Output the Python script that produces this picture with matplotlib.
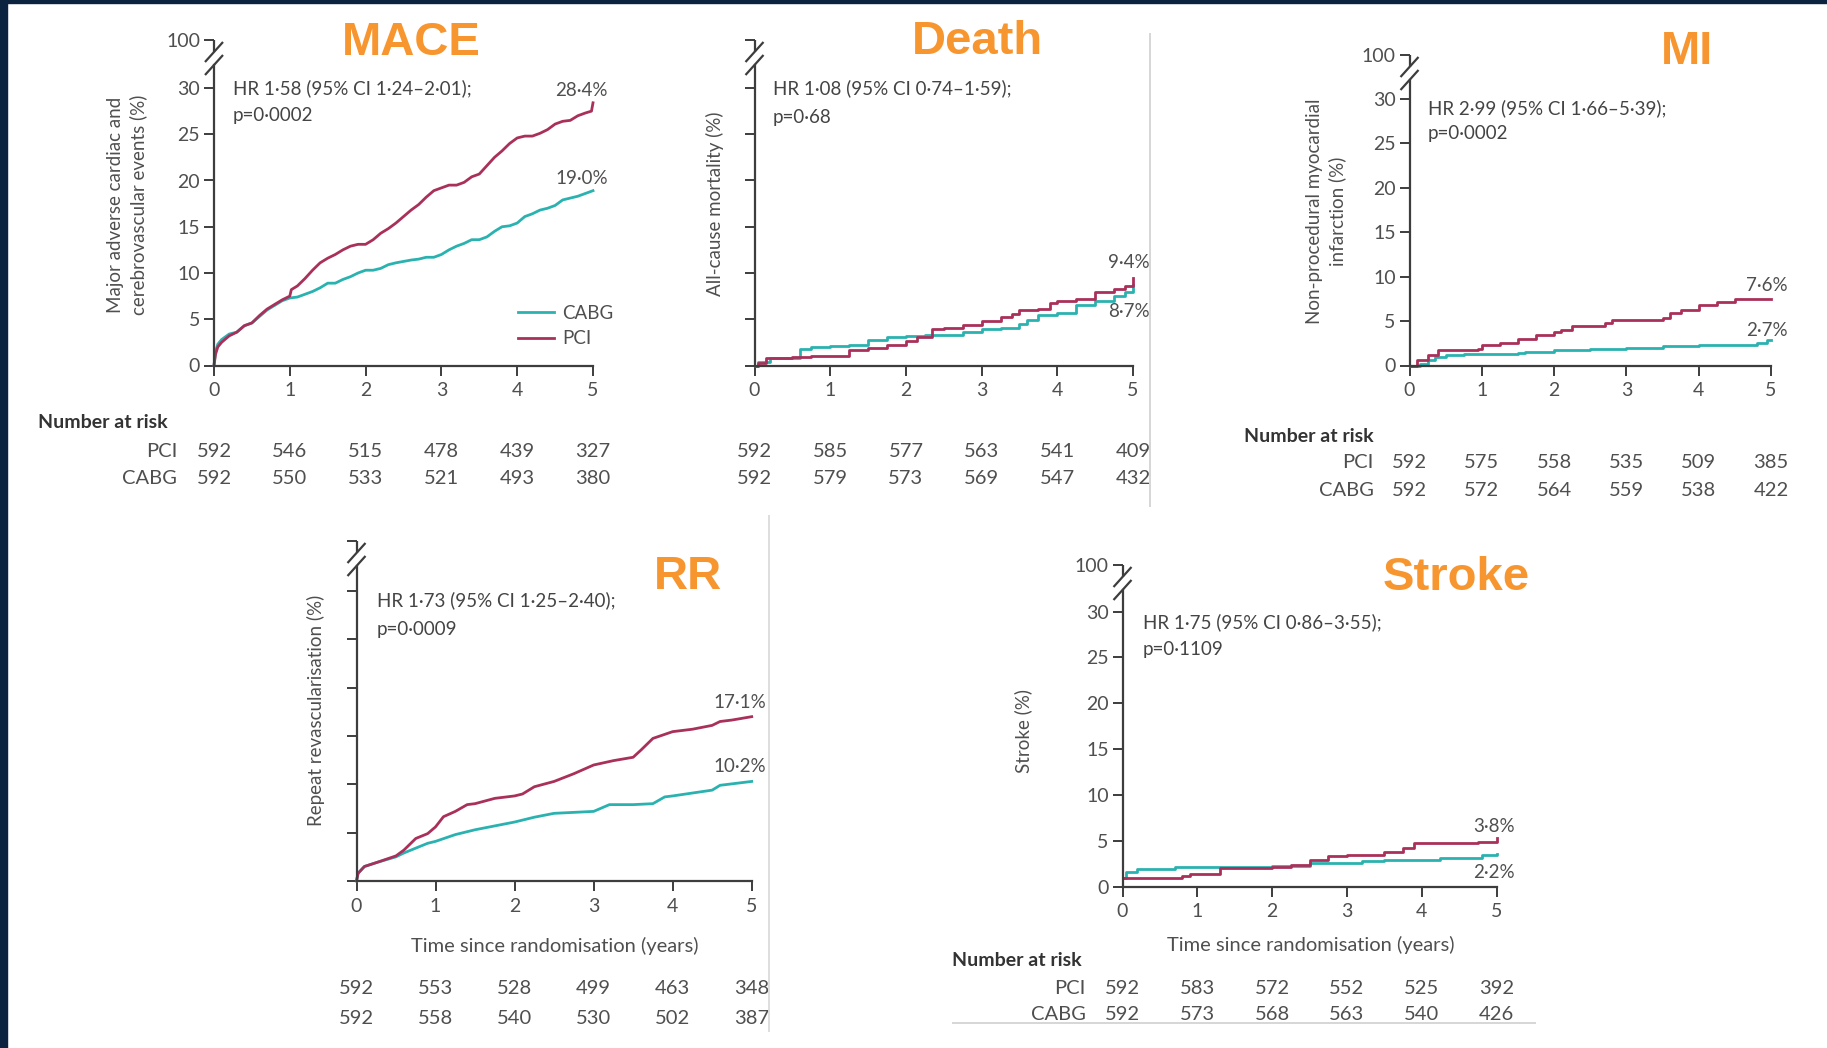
import matplotlib
matplotlib.use('Agg')
import matplotlib.pyplot as plt
from matplotlib.lines import Line2D
from matplotlib.patches import Rectangle
import matplotlib.transforms as mtransforms

# ---------------- data ----------------
risk_times = [0, 1, 2, 3, 4, 5]

# MACE
mace_pci_t = [0, 0.02, 0.05, 0.1, 0.2, 0.3, 0.4, 0.5, 0.6, 0.7, 0.8, 0.9, 1.0, 1.02, 1.1, 1.2, 1.3, 1.4,
              1.5, 1.6, 1.7, 1.8, 1.9, 2.0, 2.1, 2.2, 2.3, 2.4, 2.5, 2.6, 2.7, 2.8, 2.9, 3.0, 3.1, 3.2,
              3.3, 3.4, 3.5, 3.6, 3.7, 3.8, 3.9, 4.0, 4.1, 4.2, 4.3, 4.4, 4.5, 4.6, 4.7, 4.8, 4.9, 4.98, 5.0]
mace_pci_v = [0, 1.2, 2.0, 2.5, 3.2, 3.6, 4.3, 4.6, 5.4, 6.1, 6.6, 7.1, 7.5, 8.2, 8.6, 9.4, 10.3, 11.1,
              11.6, 12.0, 12.5, 12.9, 13.1, 13.1, 13.6, 14.3, 14.8, 15.4, 16.1, 16.8, 17.4, 18.2, 18.9, 19.2, 19.5, 19.5,
              19.8, 20.4, 20.7, 21.6, 22.5, 23.2, 24.0, 24.6, 24.8, 24.8, 25.1, 25.5, 26.1, 26.4, 26.5, 27.0, 27.3, 27.5, 28.4]
mace_cabg_t = [0, 0.02, 0.05, 0.1, 0.2, 0.3, 0.4, 0.5, 0.6, 0.7, 0.8, 0.9, 1.0, 1.1, 1.2, 1.3, 1.4,
               1.5, 1.6, 1.7, 1.8, 1.9, 2.0, 2.1, 2.2, 2.3, 2.4, 2.5, 2.6, 2.7, 2.8, 2.9, 3.0, 3.1, 3.2,
               3.3, 3.4, 3.5, 3.6, 3.7, 3.8, 3.9, 4.0, 4.1, 4.2, 4.3, 4.4, 4.5, 4.6, 4.7, 4.8, 4.9, 5.0]
mace_cabg_v = [0, 1.5, 2.3, 2.8, 3.4, 3.6, 4.3, 4.6, 5.3, 6.0, 6.5, 7.0, 7.3, 7.4, 7.7, 8.0, 8.4,
               8.9, 8.9, 9.3, 9.6, 10.0, 10.3, 10.3, 10.5, 10.9, 11.1, 11.25, 11.4, 11.5, 11.7, 11.7, 12.0, 12.5, 12.9,
               13.2, 13.6, 13.6, 13.9, 14.5, 15.0, 15.1, 15.4, 16.1, 16.4, 16.8, 17.0, 17.3, 17.9, 18.1, 18.3, 18.6, 18.9]
mace_risk_pci = [592, 546, 515, 478, 439, 327]
mace_risk_cabg = [592, 550, 533, 521, 493, 380]

# Death
death_pci_t = [0, 0.05, 0.15, 0.5, 0.75, 1.0, 1.25, 1.5, 1.75, 2.0, 2.15, 2.35, 2.5, 2.75, 3.0, 3.25, 3.4,
               3.5, 3.75, 3.9, 4.0, 4.25, 4.5, 4.75, 4.9, 5.0]
death_pci_v = [0, 0.3, 0.8, 0.9, 1.0, 1.05, 1.7, 1.85, 2.2, 2.65, 3.1, 3.9, 4.1, 4.35, 4.8, 5.2, 5.6,
               6.0, 6.15, 6.7, 7.0, 7.2, 7.9, 8.3, 8.6, 9.4]
death_cabg_t = [0, 0.05, 0.2, 0.6, 0.75, 1.0, 1.25, 1.5, 1.75, 2.0, 2.25, 2.75, 3.0, 3.25, 3.5, 3.6, 3.75,
                4.0, 4.25, 4.5, 4.75, 4.9, 5.0]
death_cabg_v = [0, 0.4, 0.8, 1.75, 1.95, 2.1, 2.2, 2.8, 3.1, 3.2, 3.3, 3.65, 3.9, 4.1, 4.5, 4.9, 5.4,
                5.7, 6.5, 7.0, 7.45, 7.9, 8.7]
death_risk_pci = [592, 585, 577, 563, 541, 409]
death_risk_cabg = [592, 579, 573, 569, 547, 432]

# MI
mi_pci_t = [0, 0.1, 0.25, 0.4, 0.5, 0.95, 1.0, 1.25, 1.5, 1.75, 2.0, 2.1, 2.25, 2.7, 2.8, 3.5, 3.6, 3.75,
            4.0, 4.25, 4.5, 5.0]
mi_pci_v = [0, 0.6, 1.2, 1.7, 1.8, 1.9, 2.3, 2.55, 2.95, 3.4, 3.8, 4.0, 4.4, 4.75, 5.1, 5.3, 5.9, 6.25,
            6.8, 7.2, 7.5, 7.5]
mi_cabg_t = [0, 0.15, 0.25, 0.35, 0.5, 0.75, 1.5, 1.6, 2.0, 2.5, 3.0, 3.5, 4.0, 4.8, 4.95, 5.0]
mi_cabg_v = [0, 0.15, 0.6, 1.0, 1.2, 1.3, 1.4, 1.55, 1.75, 1.9, 2.0, 2.2, 2.3, 2.5, 2.85, 2.85]
mi_risk_pci = [592, 575, 558, 535, 509, 385]
mi_risk_cabg = [592, 572, 564, 559, 538, 422]

# Repeat revascularisation
rr_pci_t = [0, 0.02, 0.1, 0.25, 0.5, 0.6, 0.75, 0.9, 1.0, 1.1, 1.25, 1.4, 1.5, 1.75, 2.0, 2.1, 2.25, 2.5,
            2.75, 3.0, 3.25, 3.5, 3.6, 3.75, 4.0, 4.25, 4.5, 4.6, 4.75, 5.0]
rr_pci_v = [0, 0.8, 1.5, 1.9, 2.6, 3.2, 4.4, 4.9, 5.6, 6.65, 7.2, 7.9, 8.0, 8.55, 8.8, 9.0, 9.75, 10.3,
            11.1, 12.0, 12.45, 12.8, 13.55, 14.75, 15.45, 15.7, 16.1, 16.5, 16.65, 17.0]
rr_cabg_t = [0, 0.02, 0.1, 0.25, 0.5, 0.6, 0.75, 0.9, 1.0, 1.25, 1.5, 1.75, 2.0, 2.25, 2.5, 2.75, 3.0,
             3.2, 3.5, 3.75, 3.9, 4.0, 4.25, 4.5, 4.6, 5.0]
rr_cabg_v = [0, 0.8, 1.5, 1.9, 2.5, 2.9, 3.4, 3.9, 4.1, 4.8, 5.3, 5.7, 6.1, 6.6, 7.0, 7.1, 7.2,
             7.9, 7.9, 8.0, 8.7, 8.8, 9.1, 9.4, 9.9, 10.3]
rr_risk_pci = [592, 553, 528, 499, 463, 348]
rr_risk_cabg = [592, 558, 540, 530, 502, 387]

# Stroke
st_pci_t = [0, 0.8, 0.9, 1.3, 2.0, 2.25, 2.5, 2.75, 3.0, 3.5, 3.75, 3.9, 4.75, 5.0]
st_pci_v = [0.9, 1.15, 1.4, 2.0, 2.2, 2.4, 2.9, 3.35, 3.45, 3.8, 4.2, 4.8, 4.9, 5.3]
st_cabg_t = [0, 0.05, 0.2, 0.7, 1.0, 2.0, 2.5, 3.0, 3.2, 3.5, 4.25, 4.8, 5.0]
st_cabg_v = [1.0, 1.6, 1.9, 2.1, 2.2, 2.25, 2.55, 2.6, 2.8, 2.9, 3.1, 3.45, 3.6]
st_risk_pci = [592, 583, 572, 552, 525, 392]
st_risk_cabg = [592, 573, 568, 563, 540, 426]

# ---------------- style ----------------
W, H = 1827, 1048
FONT = ['Lato', 'DejaVu Sans']
TFONT = ['Liberation Sans', 'DejaVu Sans']
plt.rcParams['font.family'] = FONT
C_PCI = '#a9305a'
C_CABG = '#2ab2b0'
AXC = '#3d3d3d'
TXT = '#4f4f4f'
ORANGE = '#f7952f'
NAVY = '#0c2340'

fig = plt.figure(figsize=(W / 100, H / 100), dpi=100)
fig.patch.set_facecolor('white')


def fx(x):
    return x / W


def fy(y):
    return 1 - y / H


def fline(xs, ys, color=AXC, lw=1.5):
    fig.add_artist(Line2D([fx(x) for x in xs], [fy(y) for y in ys], transform=fig.transFigure,
                          color=color, lw=lw, solid_capstyle='butt'))


def ftext(x, y, s, **kw):
    kw.setdefault('color', TXT)
    fig.text(fx(x), fy(y), s, **kw)


# frame decorations (slide background)
fig.add_artist(Rectangle((0, 0), fx(7), 1, transform=fig.transFigure, color=NAVY, zorder=10))
fig.add_artist(Rectangle((0, fy(3)), 1, 3 / H, transform=fig.transFigure, color=NAVY, zorder=10))
fline([1150, 1150], [33, 507], color='#cfcfcf', lw=1.2)
fline([769, 769], [515, 1032], color='#d8d8d8', lw=1.2)
fline([952, 1536], [1023, 1023], color='#cfcfcf', lw=1.2)


def make_panel(g, pci, cabg, labels=True, steps=True):
    x0, x5, y0, y30, ytop = g
    ax = fig.add_axes([fx(x0), fy(y0), (x5 - x0) / W, (y0 - ytop) / H])
    ymax = 30 * (y0 - ytop) / (y0 - y30)
    ax.set_xlim(0, 5)
    ax.set_ylim(0, ymax)
    ax.patch.set_alpha(0)
    for s in ('top', 'right'):
        ax.spines[s].set_visible(False)
    for s in ('left', 'bottom'):
        ax.spines[s].set_color(AXC)
        ax.spines[s].set_linewidth(1.6)
    c1, c2 = ytop + 12, ytop + 25
    ax.spines['left'].set_bounds(0, (y0 - c2) / (y0 - y30) * 30)
    fline([x0, x0], [ytop, c1], lw=1.6)
    for c in (c1, c2):
        fline([x0 - 9, x0 + 9], [c + 10, c - 10], lw=1.6)
    ax.set_xticks(risk_times)
    ax.set_xticklabels([str(v) for v in risk_times])
    yt = [0, 5, 10, 15, 20, 25, 30, ymax]
    ax.set_yticks(yt)
    if labels:
        ax.set_yticklabels(['0', '5', '10', '15', '20', '25', '30', '100'])
    else:
        ax.set_yticklabels([''] * len(yt))
    ax.tick_params(axis='both', direction='out', length=7, width=1.4, color=AXC,
                   labelsize=14, labelcolor=TXT)
    ax.tick_params(axis='x', pad=5)
    ax.tick_params(axis='y', pad=3)
    ds = 'steps-post' if steps else 'default'
    lc, = ax.plot(cabg[0], cabg[1], drawstyle=ds, color=C_CABG, lw=2.0, label='CABG')
    lp, = ax.plot(pci[0], pci[1], drawstyle=ds, color=C_PCI, lw=2.0, label='PCI')
    for ln in (lc, lp):
        ln.set_clip_on(False)
    return ax


def risk_rows(ax, ypci, ycabg, rpci, rcabg):
    tr = mtransforms.blended_transform_factory(ax.transData, fig.transFigure)
    for t, a, b in zip(risk_times, rpci, rcabg):
        ax.text(t, fy(ypci), str(a), transform=tr, ha='center', va='center', fontsize=14.5,
                color=TXT, clip_on=False)
        ax.text(t, fy(ycabg), str(b), transform=tr, ha='center', va='center', fontsize=14.5,
                color=TXT, clip_on=False)


def risk_header(xl, xr, yh, ypci, ycabg):
    ftext(xl, yh, 'Number at risk', fontsize=14, fontweight='bold', color='#333333', ha='left', va='center')
    ftext(xr, ypci, 'PCI', fontsize=14.5, ha='right', va='center')
    ftext(xr, ycabg, 'CABG', fontsize=14.5, ha='right', va='center')


HRS = 13.5
YLS = 13.5

# ---------------- MACE ----------------
ax1 = make_panel((214, 593, 365.5, 88, 40), (mace_pci_t, mace_pci_v), (mace_cabg_t, mace_cabg_v), steps=False)
ftext(411, 43, 'MACE', fontsize=34, fontweight='bold', color=ORANGE, ha='center', va='center', family=TFONT)
ftext(127, 205, 'Major adverse cardiac and\ncerebrovascular events (%)', fontsize=YLS, rotation=90,
      ha='center', va='center', multialignment='center', linespacing=1.3)
ftext(233, 88, 'HR 1·58 (95% CI 1·24–2·01);', fontsize=HRS, ha='left', va='center', color='#444444')
ftext(233, 116, 'p=0·0002', fontsize=HRS, ha='left', va='center', color='#444444')
ftext(608, 91, '28·4%', fontsize=13.5, ha='right', va='center')
ftext(608, 178, '19·0%', fontsize=13.5, ha='right', va='center')
leg = ax1.legend(loc='upper left', bbox_to_anchor=(fx(518), fy(305)), bbox_transform=fig.transFigure,
                 frameon=False, fontsize=13.5, handlelength=1.9, handletextpad=0.45, labelspacing=0.45,
                 borderpad=0, borderaxespad=0, labelcolor=TXT)
risk_header(38, 177, 422, 451, 478)
risk_rows(ax1, 451, 478, mace_risk_pci, mace_risk_cabg)

# ---------------- Death ----------------
ax2 = make_panel((754.5, 1133, 365.5, 87.5, 40), (death_pci_t, death_pci_v), (death_cabg_t, death_cabg_v),
                 labels=False)
ftext(977, 42, 'Death', fontsize=34, fontweight='bold', color=ORANGE, ha='center', va='center', family=TFONT)
ftext(715, 204, 'All-cause mortality (%)', fontsize=YLS, rotation=90, ha='center', va='center')
ftext(773, 88, 'HR 1·08 (95% CI 0·74–1·59);', fontsize=HRS, ha='left', va='center', color='#444444')
ftext(773, 117, 'p=0·68', fontsize=HRS, ha='left', va='center', color='#444444')
ftext(1150, 263, '9·4%', fontsize=13.5, ha='right', va='center')
ftext(1150, 312, '8·7%', fontsize=13.5, ha='right', va='center')
risk_rows(ax2, 451, 478, death_risk_pci, death_risk_cabg)

# ---------------- MI ----------------
ax3 = make_panel((1409.5, 1771, 365.5, 99, 55), (mi_pci_t, mi_pci_v), (mi_cabg_t, mi_cabg_v))
ftext(1687, 52, 'MI', fontsize=34, fontweight='bold', color=ORANGE, ha='center', va='center', family=TFONT)
ftext(1326, 211, 'Non-procedural myocardial\ninfarction (%)', fontsize=YLS, rotation=90,
      ha='center', va='center', multialignment='center', linespacing=1.3)
ftext(1428, 108, 'HR 2·99 (95% CI 1·66–5·39);', fontsize=HRS, ha='left', va='center', color='#444444')
ftext(1428, 133, 'p=0·0002', fontsize=HRS, ha='left', va='center', color='#444444')
ftext(1788, 286, '7·6%', fontsize=13.5, ha='right', va='center')
ftext(1788, 330, '2·7%', fontsize=13.5, ha='right', va='center')
risk_header(1244, 1374, 437, 463, 490)
risk_rows(ax3, 463, 490, mi_risk_pci, mi_risk_cabg)

# ---------------- RR ----------------
ax4 = make_panel((356.5, 751.7, 881, 591, 541), (rr_pci_t, rr_pci_v), (rr_cabg_t, rr_cabg_v), labels=False,
                 steps=False)
ftext(688, 577, 'RR', fontsize=34, fontweight='bold', color=ORANGE, ha='center', va='center', family=TFONT)
ftext(316, 710, 'Repeat revascularisation (%)', fontsize=YLS, rotation=90, ha='center', va='center')
ftext(377, 600, 'HR 1·73 (95% CI 1·25–2·40);', fontsize=HRS, ha='left', va='center', color='#444444')
ftext(377, 629, 'p=0·0009', fontsize=HRS, ha='left', va='center', color='#444444')
ftext(766, 703, '17·1%', fontsize=13.5, ha='right', va='center')
ftext(766, 767, '10·2%', fontsize=13.5, ha='right', va='center')
ftext(555, 946, 'Time since randomisation (years)', fontsize=14.5, ha='center', va='center')
risk_rows(ax4, 989, 1018, rr_risk_pci, rr_risk_cabg)

# ---------------- Stroke ----------------
ax5 = make_panel((1122.5, 1496.6, 886.7, 611.5, 565), (st_pci_t, st_pci_v), (st_cabg_t, st_cabg_v))
ftext(1456, 578, 'Stroke', fontsize=34, fontweight='bold', color=ORANGE, ha='center', va='center', family=TFONT)
ftext(1023, 731, 'Stroke (%)', fontsize=YLS, rotation=90, ha='center', va='center')
ftext(1143, 622, 'HR 1·75 (95% CI 0·86–3·55);', fontsize=HRS, ha='left', va='center', color='#444444')
ftext(1143, 650, 'p=0·1109', fontsize=HRS, ha='left', va='center', color='#444444')
ftext(1515, 827, '3·8%', fontsize=13.5, ha='right', va='center')
ftext(1515, 872, '2·2%', fontsize=13.5, ha='right', va='center')
ftext(1311, 945, 'Time since randomisation (years)', fontsize=14.5, ha='center', va='center')
risk_header(952, 1086, 960, 988, 1015)
risk_rows(ax5, 988, 1015, st_risk_pci, st_risk_cabg)

fig.savefig('out.png', dpi=100, facecolor='white')
